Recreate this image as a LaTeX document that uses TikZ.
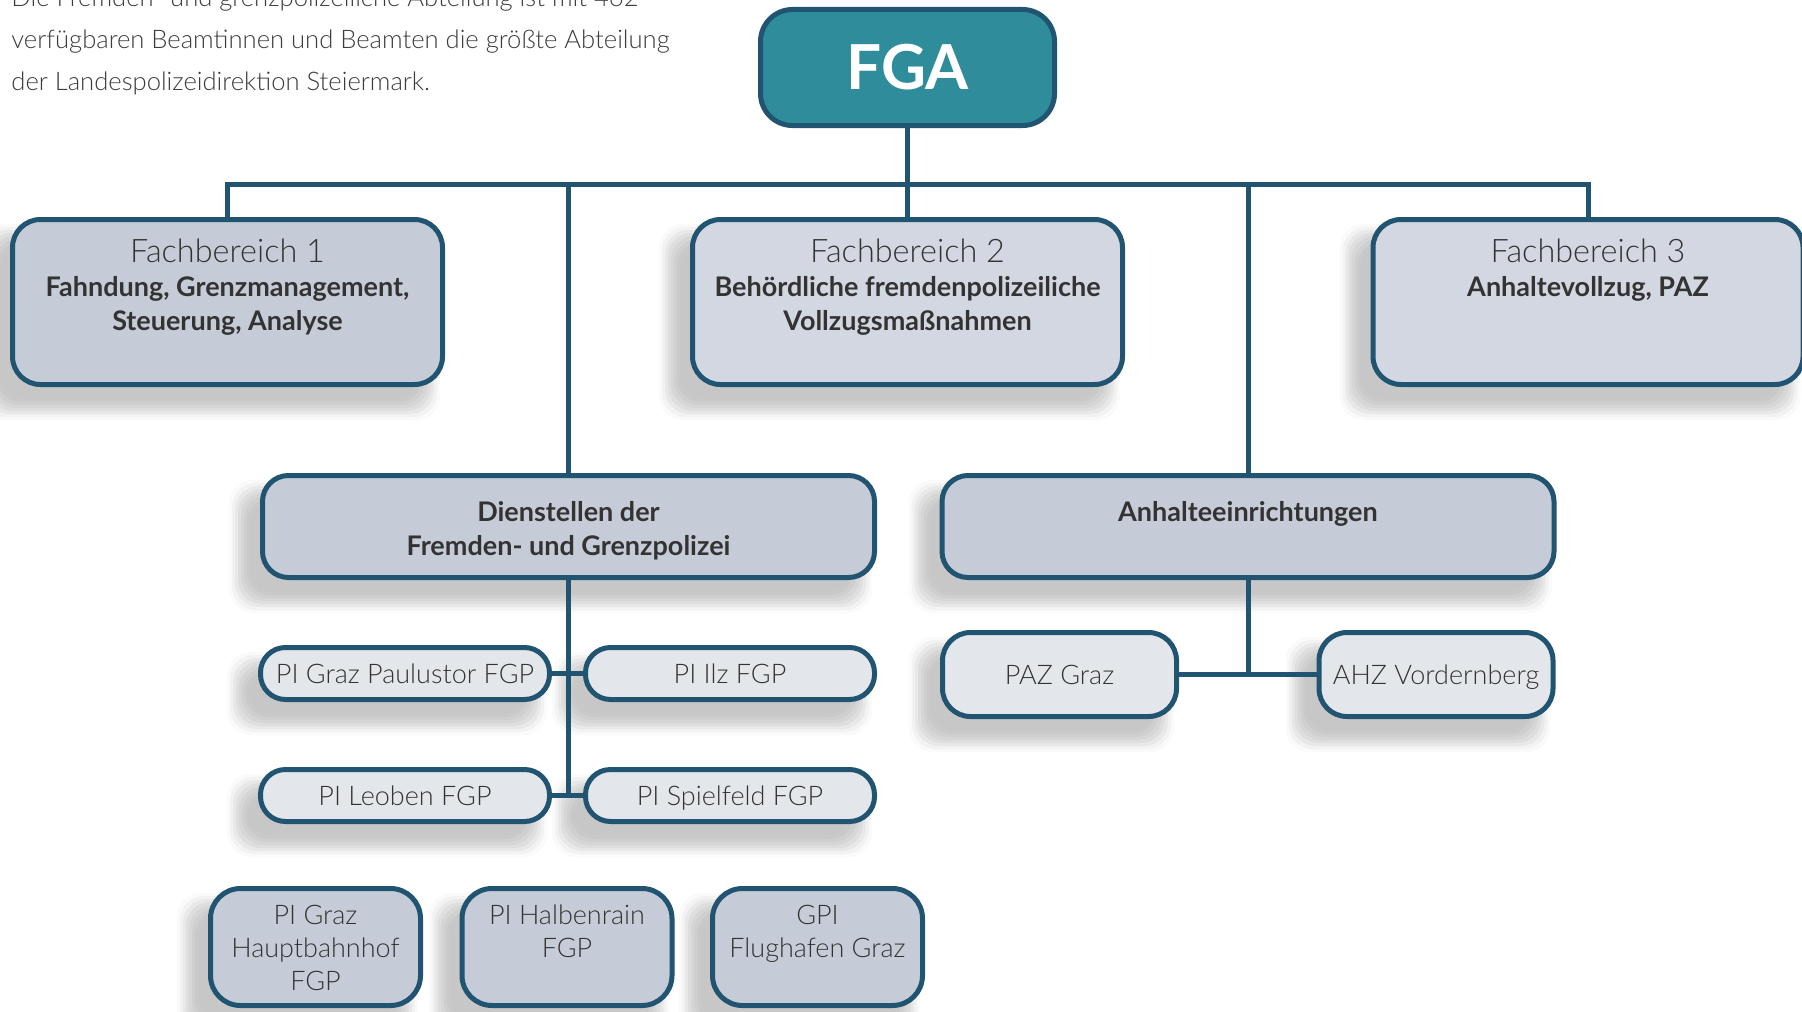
\documentclass[tikz,border=0pt]{standalone}
\usepackage{fontspec}
\setmainfont{Lato}
\newfontfamily\lightfont{Lato Light}
\usetikzlibrary{calc}
\pgfdeclarelayer{background}
\pgfsetlayers{background,main}
\definecolor{lineblue}{HTML}{215470}
\definecolor{fgafill}{HTML}{2E8C9B}
\definecolor{boxdark}{HTML}{C6CCD7}
\definecolor{boxlight}{HTML}{D2D7E2}
\definecolor{pillfill}{HTML}{E3E6EB}
\definecolor{txt}{HTML}{333333}
\definecolor{paratxt}{HTML}{3C3C3C}
\tikzset{
  box/.style={draw=lineblue, line width=2.5pt, rounded corners=14pt, inner sep=0pt, text=txt},
  fgabox/.style={box, rounded corners=16pt, fill=fgafill, text=white, minimum width=147pt, minimum height=58pt,
     font=\bfseries\fontsize{31}{36}\selectfont, text height=22.2pt, text depth=0pt},
  fbbox/.style={box, minimum width=215pt, minimum height=82.5pt},
  midbox/.style={box, rounded corners=13pt, minimum width=306pt, minimum height=51pt},
  pill/.style={box, rounded corners=12.5pt, fill=pillfill, minimum width=144.5pt, minimum height=26pt,
     font=\lightfont\fontsize{13.5}{16}\selectfont, text height=9.7pt, text depth=0pt},
  anhbox/.style={box, rounded corners=14pt, fill=pillfill, minimum width=117pt, minimum height=42pt,
     font=\lightfont\fontsize{13.5}{16}\selectfont, text height=9.7pt, text depth=0pt},
  botbox/.style={box, rounded corners=15pt, fill=boxdark, minimum width=105pt, minimum height=58.5pt},
  fbtext/.style={anchor=base, inner sep=0pt, text=txt, font=\fontsize{13.5}{17}\selectfont},
  bottext/.style={anchor=base, inner sep=0pt, text=txt, font=\lightfont\fontsize{13.5}{16.5}\selectfont},
  conn/.style={draw=lineblue, line width=2.5pt},
  shadowlayer/.style={rounded corners=12pt},
}
% soft drop shadow built from nested rounded rectangles (outer = lighter)
\newcommand\boxshadow[1]{%
  \foreach \e/\k in {13/2,10/5,7/9,4/13,1/16,-2/19,-5/21,-8/22}{%
    \fill[shadowlayer, black!\k]
      ($(#1.north west)+(-18-\e,20-\e)$) rectangle ($(#1.south east)+(-18+\e,20+\e)$);
  }}
\begin{document}
\begin{tikzpicture}[x=0.5pt,y=-0.5pt]
\useasboundingbox (0,0) rectangle (1802,1011);
\clip (0,0) rectangle (1802,1011);

% paragraph
\node[anchor=base west, inner sep=0pt, text=paratxt, font=\lightfont\fontsize{12.8}{21}\selectfont] (para) at (11,7)
  {\begin{tabular}[t]{@{}l@{}}Die Fremden- und grenzpolizeiliche Abteilung ist mit 462\\
   verfügbaren Beamtinnen und Beamten die größte Abteilung\\
   der Landespolizeidirektion Steiermark.\end{tabular}};

% top
\node[fgabox] (fga) at (907.5,67.5) {FGA};

\node[fbbox, fill=boxdark] (fb1) at (227.5,302) {};
\node[fbbox, fill=boxlight] (fb2) at (907.5,302) {};
\node[fbbox, fill=boxlight] (fb3) at (1588,302) {};

\node[fbtext] (fb1t) at (227.5,262) {\begin{tabular}[t]{@{}c@{}}{\lightfont\fontsize{16.2}{17}\selectfont Fachbereich 1}\\
  \bfseries Fahndung, Grenzmanagement,\\ \bfseries Steuerung, Analyse\end{tabular}};
\node[fbtext] (fb2t) at (907.5,262) {\begin{tabular}[t]{@{}c@{}}{\lightfont\fontsize{16.2}{17}\selectfont Fachbereich 2}\\
  \bfseries Behördliche fremdenpolizeiliche\\ \bfseries Vollzugsmaßnahmen\end{tabular}};
\node[fbtext] (fb3t) at (1588,262) {\begin{tabular}[t]{@{}c@{}}{\lightfont\fontsize{16.2}{17}\selectfont Fachbereich 3}\\
  \bfseries Anhaltevollzug, PAZ\end{tabular}};

% middle
\node[midbox, fill=boxdark] (dien) at (568.5,526.5) {};
\node[midbox, fill=boxdark] (anh) at (1248,526.5) {};
\node[fbtext] (dient) at (568.5,521) {\begin{tabular}[t]{@{}c@{}}\bfseries Dienstellen der\\ \bfseries Fremden- und Grenzpolizei\end{tabular}};
\node[fbtext, font=\bfseries\fontsize{13.5}{17}\selectfont] (anht) at (1248,521) {Anhalteeinrichtungen};

% pills
\node[pill] (paul) at (405,673.5) {PI Graz Paulustor FGP};
\node[pill] (ilz) at (730,673.5) {PI Ilz FGP};
\node[pill] (leo) at (405,795.5) {PI Leoben FGP};
\node[pill] (spiel) at (730,795.5) {PI Spielfeld FGP};

\node[anhbox] (paz) at (1059.5,674.5) {PAZ Graz};
\node[anhbox] (ahz) at (1436,674.5) {AHZ Vordernberg};

% bottom
\node[botbox] (hbf) at (315.5,947) {};
\node[botbox] (halb) at (567,947) {};
\node[botbox] (flug) at (817.5,947) {};
\node[bottext] (hbft) at (315.5,924) {\begin{tabular}[t]{@{}c@{}}PI Graz\\ Hauptbahnhof\\ FGP\end{tabular}};
\node[bottext] (halbt) at (567,924) {\begin{tabular}[t]{@{}c@{}}PI Halbenrain\\ FGP\end{tabular}};
\node[bottext] (flugt) at (817.5,924) {\begin{tabular}[t]{@{}c@{}}GPI\\ Flughafen Graz\end{tabular}};

% shadows
\begin{pgfonlayer}{background}
  \fill[white] (0,0) rectangle (1802,1011);
  \boxshadow{fb1}\boxshadow{fb2}\boxshadow{fb3}
  \boxshadow{dien}\boxshadow{anh}
  \boxshadow{paul}\boxshadow{ilz}\boxshadow{leo}\boxshadow{spiel}
  \boxshadow{paz}\boxshadow{ahz}
  \boxshadow{hbf}\boxshadow{halb}\boxshadow{flug}
\end{pgfonlayer}

% connectors
\coordinate (bar) at (907.5,184);
\draw[conn] (fga.south) -- (bar);
\draw[conn] (fb1.north) |- (bar) -| (fb3.north);
\draw[conn] (fb2.north) -- (fb2.north |- bar);
\draw[conn] (dien.north) -- (dien.north |- bar);
\draw[conn] (anh.north) -- (anh.north |- bar);
\draw[conn] (dien.south) -- (dien.south |- leo.east);
\draw[conn] (paul.east) -- (ilz.west);
\draw[conn] (leo.east) -- (spiel.west);
\draw[conn] (anh.south) -- (anh.south |- paz.east);
\draw[conn] (paz.east) -- (ahz.west);
\end{tikzpicture}
\end{document}
